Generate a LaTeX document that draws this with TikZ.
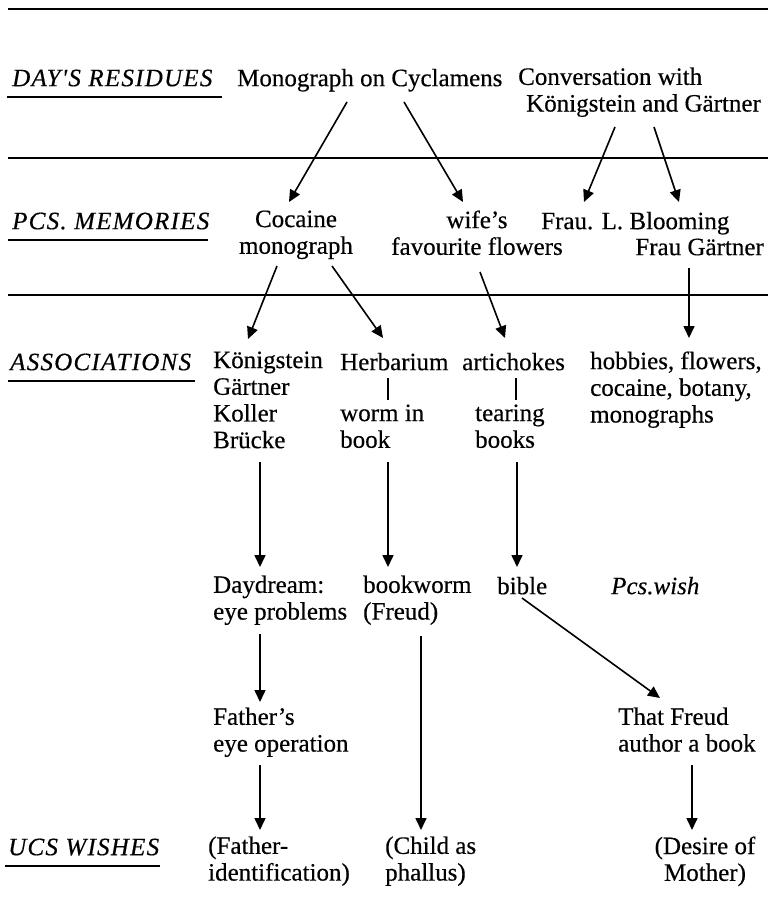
\documentclass[tikz,border=0pt]{standalone}
\usepackage{fontspec}
\setmainfont{Liberation Serif}[FakeBold=0.4]
\newfontfamily\labfont[LetterSpace=5,FakeBold=0.4]{Liberation Serif}
\usetikzlibrary{arrows.meta,calc}
\begin{document}
\begin{tikzpicture}[x=1pt,y=-1pt,
  txt/.style={inner sep=0pt, font=\fontsize{25}{26.7}\selectfont, align=left, anchor=north west, execute at begin node=\strut},
  ctxt/.style={txt, align=center, anchor=north},
  rtxt/.style={txt, anchor=north east},
  lab/.style={inner sep=0pt, font=\labfont\itshape\fontsize{25}{26.7}\selectfont, anchor=north west, execute at begin node=\strut},
  itxt/.style={txt, font=\itshape\fontsize{25}{26.7}\selectfont},
  rule/.style={line width=2.8pt},
  uline/.style={line width=2.8pt},
  arr/.style={line width=1.6pt, -{Triangle[length=12pt,width=11pt]}},
  bar/.style={line width=1.8pt}]
\fill[white] (0,0) rectangle (771,908);
\useasboundingbox (0,0) rectangle (771,908);

% horizontal rules
\coordinate (r1a) at (8,9);    \coordinate (r1b) at (768,9);
\coordinate (r2a) at (8,158);  \coordinate (r2b) at (768,158);
\coordinate (r3a) at (8,295);  \coordinate (r3b) at (768,295);
\draw[rule] (r1a) -- (r1b);
\draw[rule] (r2a) -- (r2b);
\draw[rule] (r3a) -- (r3b);

% row labels
\node[lab] (lday) at (12,67.3) {DAY'S RESIDUES};
\node[lab] (lpcs) at (12,210.3) {PCS. MEMORIES};
\node[lab] (lass) at (10,351.3) {ASSOCIATIONS};
\node[lab] (lucs) at (8,836.3) {UCS WISHES};
\coordinate (u1a) at (7,97);   \coordinate (u1b) at (222,97);
\coordinate (u2a) at (8,240);  \coordinate (u2b) at (208,240);
\coordinate (u3a) at (8,381);  \coordinate (u3b) at (195,381);
\coordinate (u4a) at (5,866);  \coordinate (u4b) at (160,866);
\draw[uline] (u1a) -- (u1b);
\draw[uline] (u2a) -- (u2b);
\draw[uline] (u3a) -- (u3b);
\draw[uline] (u4a) -- (u4b);

% row 1
\node[txt] (mono) at (237,67.3) {Monograph on Cyclamens};
\node[txt] (conv) at (518,67.3) {Conversation with\\\hspace*{8pt}Königstein and Gärtner};

% row 2
\node[ctxt] (coc) at (296,210.3) {Cocaine\\monograph};
\node[ctxt] (wife) at (477,210.3) {wife's\\favourite flowers};
\node[txt] (frl) at (541,210.3) {Frau. L. Blooming};
\node[rtxt] (frg) at (764,236.3) {Frau Gärtner};

% row 3
\node[txt] (kon) at (213,351.3) {Königstein\\Gärtner\\Koller\\Brücke};
\node[txt] (herb) at (340,351.3) {Herbarium};
\node[txt] (worm) at (340,404.3) {worm in\\book};
\node[txt] (arti) at (462,351.3) {artichokes};
\node[txt] (tear) at (475,404.3) {tearing\\books};
\node[txt] (hob) at (590,351.3) {hobbies, flowers,\\cocaine, botany,\\monographs};

% row 4
\node[txt] (day) at (213,575.3) {Daydream:\\eye problems};
\node[txt] (bw) at (363,575.3) {bookworm\\(Freud)};
\node[txt] (bib) at (497,575.3) {bible};
\node[itxt] (pcw) at (611,575.3) {Pcs.wish};

% row 5
\node[txt] (fat) at (213,707.3) {Father's\\eye operation};
\node[txt] (tf) at (618,707.3) {That Freud\\author a book};

% row 6
\node[txt] (fid) at (208,836.3) {(Father-\\identification)};
\node[txt] (chi) at (385,836.3) {(Child as\\phallus)};
\node[ctxt] (des) at (705,836.3) {(Desire of\\Mother)};

% connectors
\draw[arr] ($(mono.north west)+(110,34.7)$) -- ($(coc.north)+(-7,-8.3)$);
\draw[arr] ($(mono.north west)+(167,34.7)$) -- ($(wife.north)+(-14,-8.3)$);
\draw[arr] ($(conv.north west)+(97,59.7)$) -- ($(frl.north west)+(43,-8.3)$);
\draw[arr] ($(conv.north west)+(136,59.7)$) -- ($(frl.north west)+(138,-8.3)$);

\draw[arr] ($(coc.north)+(-19,55.7)$) -- ($(kon.north west)+(35,-12.3)$);
\draw[arr] ($(coc.north)+(36,55.7)$) -- ($(herb.north west)+(43,-13.3)$);
\draw[arr] ($(wife.north)+(3,61.7)$) -- ($(arti.north west)+(43,-13.3)$);
\draw[arr] ($(frg.north east)+(-75,31.7)$) -- ($(hob.north west)+(99,-13.3)$);

\draw[bar] ($(herb.north west)+(48,26.7)$) -- ($(worm.north west)+(48,-4.3)$);
\draw[bar] ($(arti.north west)+(54,26.7)$) -- ($(tear.north west)+(41,-4.3)$);

\draw[arr] ($(kon.north west)+(47,110.7)$) -- ($(day.north west)+(47,-8.3)$);
\draw[arr] ($(worm.north west)+(48,57.7)$) -- ($(bw.north west)+(25,-8.3)$);
\draw[arr] ($(tear.north west)+(42,57.7)$) -- ($(bib.north west)+(20,-8.3)$);

\draw[arr] ($(day.north west)+(47,58.7)$) -- ($(fat.north west)+(47,-5.3)$);
\draw[arr] ($(bw.north west)+(58,60.7)$) -- ($(chi.north west)+(36,-6.3)$);
\draw[arr] ($(bib.north west)+(25,22.7)$) -- ($(tf.north west)+(42,-9.3)$);

\draw[arr] ($(fat.north west)+(47,57.7)$) -- ($(fid.north west)+(52,-6.3)$);
\draw[arr] ($(tf.north west)+(74,57.7)$) -- ($(des.north)+(-13,-6.3)$);
\end{tikzpicture}
\end{document}
